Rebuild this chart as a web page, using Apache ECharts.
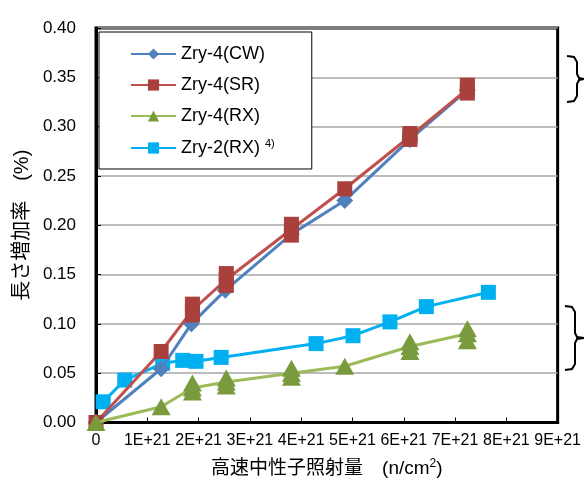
<!DOCTYPE html>
<html>
<head>
<meta charset="utf-8">
<script src="https://cdn.jsdelivr.net/npm/echarts@6/dist/echarts.min.js"></script>
<style>
  html, body { margin: 0; padding: 0; background: #fff; }
  #chart { width: 584px; height: 483px; }
</style>
</head>
<body>
<div id="chart"></div>
<script>
// x in units of 1E+21 n/cm2
const xTickLabels = ["0", "1E+21", "2E+21", "3E+21", "4E+21", "5E+21", "6E+21", "7E+21", "8E+21", "9E+21"];

// Zry-4(CW)
const cwX = [0, 1.27, 1.86, 2.52, 3.81, 4.85, 6.12, 7.24];
const cwY = [0, 0.0545, 0.100, 0.134, 0.191, 0.225, 0.287, 0.337];

// Zry-4(SR) line and the individual specimens
const srX = [0, 1.27, 1.88, 2.54, 3.81, 4.85, 6.12, 7.24];
const srY = [0, 0.072, 0.114, 0.145, 0.196, 0.237, 0.290, 0.338];
const srPtX = [1.88, 1.88, 2.54, 2.54, 3.81, 3.81, 6.12, 6.12, 7.24, 7.24];
const srPtY = [0.120, 0.109, 0.151, 0.139, 0.201, 0.190, 0.293, 0.287, 0.342, 0.334];

// Zry-4(RX)
const rxX = [0, 1.27, 1.88, 2.54, 3.81, 4.85, 6.12, 7.24];
const rxY = [0, 0.016, 0.035, 0.041, 0.050, 0.057, 0.077, 0.090];
const rxPtX = [1.88, 1.88, 2.54, 2.54, 3.81, 3.81, 6.12, 6.12, 7.24, 7.24];
const rxPtY = [0.040, 0.031, 0.045, 0.037, 0.055, 0.046, 0.082, 0.072, 0.095, 0.083];

// Zry-2(RX)
const zr2X = [0.14, 0.56, 1.30, 1.69, 1.95, 2.44, 4.29, 5.01, 5.73, 6.44, 7.65];
const zr2Y = [0.021, 0.043, 0.060, 0.063, 0.062, 0.066, 0.080, 0.088, 0.102, 0.1175, 0.132];

const font = '"Liberation Sans", "Noto Sans CJK JP", sans-serif';
const pairs = (xs, ys) => xs.map((x, i) => [x, ys[i]]);

// right-hand brace "}" between y0 and y1, tip at y mid
function brace(x0, y0, y1) {
  const m = (y0 + y1) / 2;
  return {
    type: "polyline",
    shape: {
      points: [[x0, y0], [x0 + 7, y0 + 1], [x0 + 10, y0 + 6], [x0 + 10, m - 5], [x0 + 12, m - 1],
               [584, m], [x0 + 12, m + 1], [x0 + 10, m + 5], [x0 + 10, y1 - 6], [x0 + 7, y1 - 1], [x0, y1]]
    },
    style: { fill: null, stroke: "#000", lineWidth: 2 }
  };
}

const chart = echarts.init(document.getElementById("chart"));
chart.setOption({
  animation: false,
  textStyle: { fontFamily: font, color: "#000" },
  grid: {
    left: 96,
    top: 28,
    right: 26,
    bottom: 59,
    show: true,
    borderColor: "#000",
    borderWidth: 3,
    backgroundColor: "#fff"
  },
  legend: {
    orient: "vertical",
    left: 99,
    top: 32,
    padding: [13, 37, 12, 31],
    itemGap: 13,
    itemWidth: 45,
    itemHeight: 14,
    backgroundColor: "#fff",
    borderColor: "#000",
    borderWidth: 1,
    borderRadius: 0,
    data: ["Zry-4(CW)", "Zry-4(SR)", "Zry-4(RX)", "Zry-2(RX)"],
    formatter: name => name === "Zry-2(RX)" ? "{t|" + name + "} {s|4)}" : "{t|" + name + "}",
    textStyle: {
      fontFamily: font,
      fontSize: 18,
      color: "#000",
      rich: {
        t: { fontSize: 18, lineHeight: 20, fontFamily: font, color: "#000" },
        s: { fontSize: 11, fontFamily: font, color: "#000", verticalAlign: "top", padding: [0, 0, 8, 0] }
      }
    }
  },
  xAxis: {
    type: "value",
    min: 0,
    max: 9,
    interval: 1,
    name: "高速中性子照射量　(n/cm{sup|2})",
    nameLocation: "middle",
    nameGap: 35,
    nameTextStyle: {
      fontSize: 19,
      fontFamily: font,
      color: "#000",
      rich: {
        sup: { fontSize: 12, fontFamily: font, color: "#000", verticalAlign: "top", padding: [0, 0, 10, 0] }
      }
    },
    axisLine: { lineStyle: { color: "#000", width: 3 } },
    axisTick: { inside: true, length: 5, lineStyle: { color: "#000", width: 1 } },
    axisLabel: {
      fontSize: 16,
      color: "#000",
      margin: 10,
      formatter: v => xTickLabels[Math.round(v)]
    },
    splitLine: { show: false }
  },
  yAxis: {
    type: "value",
    min: 0,
    max: 0.4,
    interval: 0.05,
    name: "長さ増加率　(%)",
    nameLocation: "middle",
    nameGap: 61,
    nameTextStyle: { fontSize: 20, fontFamily: font, color: "#000" },
    axisLine: { show: true, lineStyle: { color: "#000", width: 3 } },
    axisTick: { show: true, inside: true, length: 5, lineStyle: { color: "#000", width: 1 } },
    axisLabel: {
      fontSize: 17,
      color: "#000",
      margin: 20,
      formatter: v => v.toFixed(2)
    },
    splitLine: { show: true, lineStyle: { color: "#a6a6a6", width: 1.5 } }
  },
  graphic: [brace(567, 56, 102), brace(565, 306, 370)],
  series: [
    {
      name: "Zry-4(CW)",
      type: "line",
      z: 3,
      data: pairs(cwX, cwY),
      symbol: "diamond",
      symbolSize: 17,
      itemStyle: { color: "#4f81bd" },
      lineStyle: { color: "#4f81bd", width: 3 }
    },
    {
      name: "Zry-4(SR)",
      type: "line",
      z: 4,
      data: pairs(srX, srY),
      symbol: "rect",
      symbolSize: 15,
      itemStyle: { color: "#a9403c" },
      lineStyle: { color: "#c0504d", width: 3 }
    },
    {
      name: "Zry-4(RX)",
      type: "line",
      z: 5,
      data: pairs(rxX, rxY),
      symbol: "triangle",
      symbolSize: [19, 17],
      itemStyle: { color: "#7a9a3e" },
      lineStyle: { color: "#9bbb59", width: 3 }
    },
    {
      name: "Zry-2(RX)",
      type: "line",
      z: 2,
      data: pairs(zr2X, zr2Y),
      symbol: "rect",
      symbolSize: 15,
      itemStyle: { color: "#00b0f0" },
      lineStyle: { color: "#00b0f0", width: 3 }
    },
    {
      name: "Zry-4(SR)",
      type: "scatter",
      z: 4,
      data: pairs(srPtX, srPtY),
      symbol: "rect",
      symbolSize: 15,
      itemStyle: { color: "#a9403c", opacity: 1 }
    },
    {
      name: "Zry-4(RX)",
      type: "scatter",
      z: 5,
      data: pairs(rxPtX, rxPtY),
      symbol: "triangle",
      symbolSize: [19, 17],
      itemStyle: { color: "#7a9a3e", opacity: 1 }
    }
  ]
});
</script>
</body>
</html>
